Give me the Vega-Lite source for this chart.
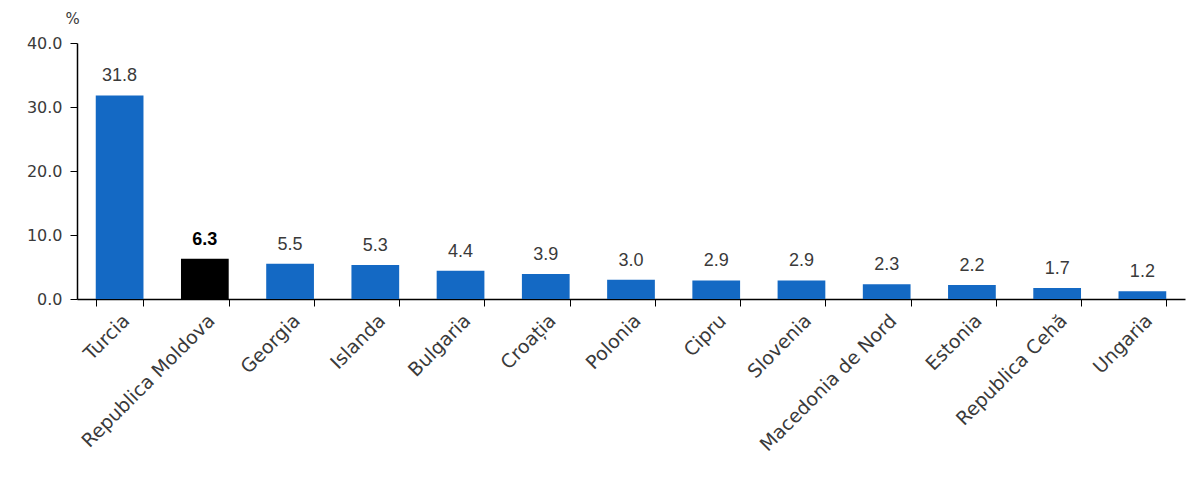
{
  "$schema": "https://vega.github.io/schema/vega-lite/v6.json",
  "autosize": {"type": "none"},
  "padding": {"left": 77, "top": 43, "right": 15, "bottom": 179},
  "width": 1108,
  "height": 256,
  "background": "white",
  "data": {
    "values": [
      {"country": "Turcia", "value": 31.8},
      {"country": "Republica Moldova", "value": 6.3},
      {"country": "Georgia", "value": 5.5},
      {"country": "Islanda", "value": 5.3},
      {"country": "Bulgaria", "value": 4.4},
      {"country": "Croația", "value": 3.9},
      {"country": "Polonia", "value": 3.0},
      {"country": "Cipru", "value": 2.9},
      {"country": "Slovenia", "value": 2.9},
      {"country": "Macedonia de Nord", "value": 2.3},
      {"country": "Estonia", "value": 2.2},
      {"country": "Republica Cehă", "value": 1.7},
      {"country": "Ungaria", "value": 1.2}
    ]
  },
  "encoding": {
    "x": {
      "field": "country",
      "type": "nominal",
      "sort": null,
      "title": null,
      "scale": {"paddingInner": 0.44, "paddingOuter": 0.22},
      "axis": {
        "labelAngle": -45,
        "labelFont": "DejaVu Sans",
        "labelFontSize": 19,
        "labelColor": "#3a3a3a",
        "labelPadding": 5,
        "labelLimit": 400,
        "tickBand": "extent",
        "tickColor": "#000000",
        "tickSize": 7,
        "domainColor": "#000000",
        "domainWidth": 1.5
      }
    },
    "y": {
      "field": "value",
      "type": "quantitative",
      "scale": {"domain": [0, 40]},
      "title": "%",
      "axis": {
        "values": [0, 10, 20, 30, 40],
        "format": ".1f",
        "grid": false,
        "labelFont": "DejaVu Sans",
        "labelFontSize": 16,
        "labelColor": "#3a3a3a",
        "labelPadding": 8,
        "tickColor": "#000000",
        "tickSize": 7,
        "domainColor": "#000000",
        "domainWidth": 1.5,
        "titleAngle": 0,
        "titleFont": "DejaVu Sans",
        "titleFontSize": 15,
        "titleFontWeight": "normal",
        "titleColor": "#3a3a3a",
        "titleX": -12,
        "titleY": -17,
        "titleAlign": "left"
      }
    }
  },
  "layer": [
    {
      "mark": {"type": "bar"},
      "encoding": {
        "color": {
          "condition": {"test": "datum.country === 'Republica Moldova'", "value": "#000000"},
          "value": "#1469c4"
        }
      }
    },
    {
      "transform": [{"filter": "datum.country !== 'Republica Moldova'"}],
      "mark": {"type": "text", "dy": -10, "baseline": "bottom", "font": "Liberation Sans", "fontSize": 18, "color": "#3a3a3a"},
      "encoding": {"text": {"field": "value", "type": "quantitative", "format": ".1f"}}
    },
    {
      "transform": [{"filter": "datum.country === 'Republica Moldova'"}],
      "mark": {"type": "text", "dy": -10, "baseline": "bottom", "font": "Liberation Sans", "fontSize": 18, "fontWeight": "bold", "color": "#000000"},
      "encoding": {"text": {"field": "value", "type": "quantitative", "format": ".1f"}}
    }
  ],
  "config": {"view": {"stroke": null}}
}
